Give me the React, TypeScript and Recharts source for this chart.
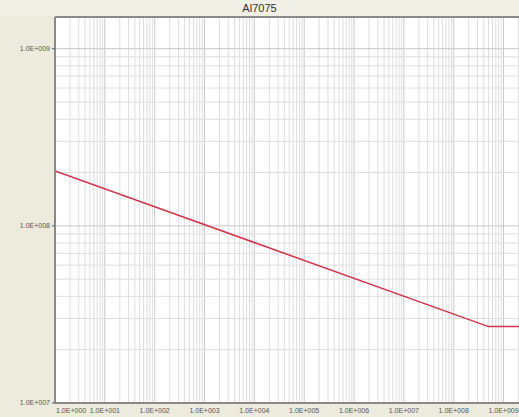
import React from 'react';
import { LineChart, Line, XAxis, YAxis, ReferenceLine } from 'recharts';

// S-N curve: cycles vs stress (log-log)
const cycles = [1, 5e8, 2.24e9];
const stress = [2.04e8, 2.7e7, 2.7e7];

const xTicks = [1, 1e1, 1e2, 1e3, 1e4, 1e5, 1e6, 1e7, 1e8, 1e9];
const yTicks = [1e7, 1e8, 1e9];

const X_MAX = 2.24e9;
const Y_MIN = 1e7;
const Y_MAX = 1.51e9;

const data = cycles.map((c, i) => ({ cycles: c, stress: stress[i] }));

// log grid values (2..9 x 10^n) inside the domain
const minorValues = (lo: number, hi: number, max: number) => {
  const out: number[] = [];
  for (let d = lo; d <= hi; d++) {
    for (let m = 2; m <= 9; m++) {
      const v = m * Math.pow(10, d);
      if (v < max) out.push(v);
    }
  }
  return out;
};
const xMinor = minorValues(0, 9, X_MAX);
const yMinor = minorValues(7, 9, Y_MAX);

const fmt = (v: number) => {
  const e = Math.round(Math.log10(v));
  return `1.0E+${String(e).padStart(3, '0')}`;
};

const XTick = (props: any) => {
  const { x, y, payload } = props;
  const first = payload.value === 1;
  return (
    <text x={first ? x + 1 : x} y={y + 2} textAnchor={first ? 'start' : 'middle'} fontSize={7} fill="#555">
      {fmt(payload.value)}
    </text>
  );
};

const App: React.FC = () => {
  return (
    <div
      style={{
        position: 'fixed',
        left: 0,
        top: 0,
        width: 519,
        height: 417,
        background: '#ecebdd',
        fontFamily: '"Liberation Sans", Arial, sans-serif',
        overflow: 'hidden',
      }}
    >
      <div
        style={{
          position: 'absolute',
          left: 0,
          top: 0,
          width: 519,
          height: 16,
          background: '#f1f0e6',
          textAlign: 'center',
          fontSize: 11,
          lineHeight: '16px',
          color: '#333',
        }}
      >
        Al7075
      </div>
      <div style={{ position: 'absolute', left: 0, top: 16 }}>
        <LineChart width={521} height={401} data={data} margin={{ top: 1, right: 0, left: 0, bottom: 0 }}>
          <rect x={55} y={1} width={470} height={386} fill="#ffffff" />
          <XAxis
            dataKey="cycles"
            type="number"
            scale="log"
            domain={[1, X_MAX]}
            ticks={xTicks}
            interval={0}
            tick={<XTick />}
            tickLine={false}
            axisLine={{ stroke: '#8a8a8a', strokeWidth: 2 }}
            height={14}
            allowDataOverflow
          />
          <YAxis
            type="number"
            scale="log"
            domain={[Y_MIN, Y_MAX]}
            ticks={yTicks}
            interval={0}
            tickFormatter={fmt}
            tick={{ fontSize: 7, fill: '#555' }}
            tickLine={{ stroke: '#555' }}
            tickSize={3}
            axisLine={{ stroke: '#8a8a8a', strokeWidth: 2 }}
            width={55}
            allowDataOverflow
          />
          {xMinor.map((v) => (
            <ReferenceLine key={`xm-${v}`} x={v} stroke="#dedede" strokeWidth={1} ifOverflow="hidden" />
          ))}
          {xTicks.slice(1).map((v) => (
            <ReferenceLine key={`xM-${v}`} x={v} stroke="#c8c8c8" strokeWidth={1} ifOverflow="hidden" />
          ))}
          {yMinor.map((v) => (
            <ReferenceLine key={`ym-${v}`} y={v} stroke="#dedede" strokeWidth={1} ifOverflow="hidden" />
          ))}
          {yTicks.slice(1).map((v) => (
            <ReferenceLine key={`yM-${v}`} y={v} stroke="#c8c8c8" strokeWidth={1} ifOverflow="hidden" />
          ))}
          <ReferenceLine y={Y_MAX} stroke="#8a8a8a" strokeWidth={2} ifOverflow="extendDomain" />
          <Line
            dataKey="stress"
            stroke="#d2324a"
            strokeWidth={1.5}
            dot={false}
            isAnimationActive={false}
          />
        </LineChart>
      </div>
    </div>
  );
};

export default App;
